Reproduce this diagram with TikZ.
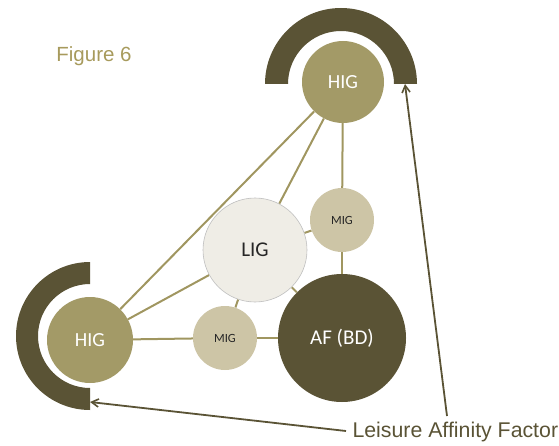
\documentclass[tikz,border=0pt]{standalone}
\usepackage{fontspec}
\setmainfont{Liberation Sans}
\newfontfamily\calib{Carlito}
\usetikzlibrary{arrows.meta,backgrounds}
\definecolor{olive}{HTML}{A39A67}
\definecolor{lightolive}{HTML}{CDC5A6}
\definecolor{paleolive}{HTML}{EFEDE6}
\definecolor{darkolive}{HTML}{5A5335}
\definecolor{linkcol}{HTML}{A09660}
\definecolor{figcol}{HTML}{A79A5C}
\tikzset{
  bubble/.style={circle,inner sep=0pt,font=\calib},
  higc/.style={bubble,fill=olive,text=white,minimum size=#1,font=\calib\fontsize{20}{22}\selectfont},
  migc/.style={bubble,fill=lightolive,text=black!85,minimum size=64pt,font=\calib\fontsize{12.5}{14}\selectfont},
  ligc/.style={bubble,fill=paleolive,draw=black!25,line width=0.6pt,text=black!85,minimum size=104pt,font=\calib\fontsize{21}{23}\selectfont},
  afc/.style={bubble,fill=darkolive,text=white,minimum size=128pt,font=\calib\fontsize{21}{23}\selectfont},
  link/.style={draw=linkcol,line width=2pt},
  band/.style={fill=darkolive},
  pointer/.style={draw=darkolive,line width=1.8pt,-{Straight Barb[length=7pt,width=8pt,line width=1.6pt]}}
}
\begin{document}
\begin{tikzpicture}[x=1pt,y=1pt]
\useasboundingbox (0,0) rectangle (559,445);
% arcs
\fill[band] (417,361) arc[start angle=0,end angle=180,radius=76] -- (288,361) arc[start angle=180,end angle=0,radius=53] -- cycle;
\fill[band] (90,183) arc[start angle=90,end angle=270,radius=74] -- (90,57) arc[start angle=270,end angle=90,radius=52] -- cycle;
% nodes
\node[higc=82pt] (hig1) at (343,363) {HIG};
\node[higc=86pt] (hig2) at (90,105) {HIG};
\node[ligc] (lig) at (255,195) {LIG};
\node[migc] (mig1) at (342,225) {MIG};
\node[migc] (mig2) at (225,107) {MIG};
\node[afc] (af) at (342,107) {AF (BD)};
\node[text=figcol,font=\fontsize{20.5}{22}\selectfont] (fig) at (94,389) {Figure 6};
\node[text=darkolive,font=\fontsize{21.3}{23}\selectfont,anchor=west] (laf) at (349,13) {Leisure Affinity Factor};
\coordinate (tipA) at (405,361);
\coordinate (tipB) at (90,43);
\coordinate (srcA) at (447,29);
\coordinate (srcB) at (346,14);
\begin{pgfonlayer}{background}
\draw[link] (hig1) -- (hig2);
\draw[link] (hig1) -- (lig);
\draw[link] (hig1) -- (mig1);
\draw[link] (mig1) -- (af);
\draw[link] (mig1) -- (lig);
\draw[link] (lig) -- (hig2);
\draw[link] (lig) -- (mig2);
\draw[link] (lig) -- (af);
\draw[link] (hig2) -- (mig2);
\draw[link] (mig2) -- (af);
\end{pgfonlayer}
\draw[pointer] (srcA) -- (tipA);
\draw[pointer] (srcB) -- (tipB);
\end{tikzpicture}
\end{document}
